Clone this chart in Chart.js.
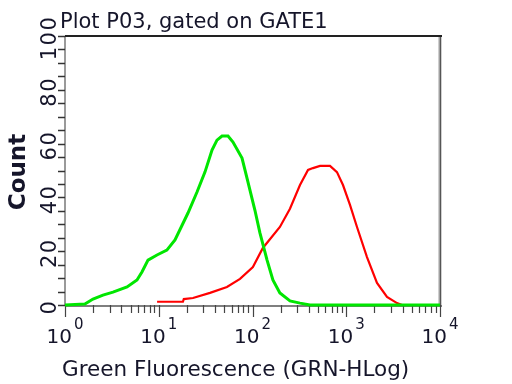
<!DOCTYPE html>
<html>
<head>
<meta charset="utf-8">
<script src="https://cdn.jsdelivr.net/npm/chart.js@4.4.1/dist/chart.umd.min.js"></script>
<style>
  html, body { margin: 0; padding: 0; background: #fff; }
  canvas { display: block; }
</style>
</head>
<body>
<canvas id="histo" width="512" height="384"></canvas>
<script>
// histogram data (fluorescence, count)
const greenFluor = [1, 1.63, 1.99, 2.54, 3.25, 4.59, 5.86, 6.62, 7.68, 9.58, 12.2, 14.9, 20.5, 25.6, 31.1, 37, 41.8, 47.3, 54.8, 61.9, 77.3, 89.5, 106, 120, 143, 165, 196, 251, 321, 410, 10000];
const greenCount = [0, 0.4, 2.2, 3.7, 4.8, 6.7, 9.3, 12.3, 16.7, 18.6, 20.4, 24.2, 34.2, 42, 49.4, 57.6, 61.3, 62.8, 62.8, 60.6, 54.6, 45.7, 35.3, 26.8, 16.7, 9.3, 4.5, 1.5, 0.7, 0, 0];

const redFluor = [9.6, 18.1, 18.5, 23.2, 35.2, 53.4, 73.6, 101, 129, 196, 251, 321, 391, 442, 525, 671, 796, 923, 1096, 1302, 1664, 2128, 2721, 3477, 3935];
const redCount = [1.2, 1.2, 2.2, 2.6, 4.5, 6.7, 9.7, 14.1, 21.2, 29, 35.8, 44.6, 50.2, 50.9, 51.7, 51.7, 49.4, 44.6, 37.2, 29, 17.8, 8.2, 3, 0.7, 0];

// axis ticks
const yTickLabels = [0, 20, 40, 60, 80, 100];
const yMinorStep = 5;
const xDecades = [1, 10, 100, 1000, 10000];
const xExponents = ['0', '1', '2', '3', '4'];

const titleText = 'Plot P03, gated on GATE1';
const xTitle = 'Green Fluorescence (GRN-HLog)';
const yTitle = 'Count';

const toPoints = (xs, ys) => xs.map((x, i) => ({ x: x, y: ys[i] }));

// frame, ticks and labels drawn by hand (rotated y labels, 10^n labels)
const frameAxes = {
  id: 'frameAxes',
  beforeDatasetsDraw(chart) {
    const c = chart.ctx;
    const a = chart.chartArea;
    const xs = chart.scales.x, ys = chart.scales.y;
    c.save();
    // left axis
    c.strokeStyle = '#9a9a9a';
    c.lineWidth = 2;
    c.beginPath(); c.moveTo(a.left, a.top); c.lineTo(a.left, a.bottom + 1); c.stroke();
    // right border
    c.strokeStyle = '#a0a0a0';
    c.lineWidth = 3;
    c.beginPath(); c.moveTo(a.right, a.top); c.lineTo(a.right, a.bottom); c.stroke();
    c.strokeStyle = '#555';
    c.lineWidth = 1;
    c.beginPath(); c.moveTo(a.right + 0.5, a.top); c.lineTo(a.right + 0.5, a.bottom); c.stroke();
    // top border
    c.strokeStyle = '#222';
    c.lineWidth = 2;
    c.beginPath(); c.moveTo(a.left, a.top); c.lineTo(a.right + 2, a.top); c.stroke();
    // bottom axis
    c.strokeStyle = '#555';
    c.lineWidth = 1.5;
    c.beginPath(); c.moveTo(a.left, a.bottom + 1); c.lineTo(a.right + 2, a.bottom + 1); c.stroke();

    // y ticks every 5
    c.strokeStyle = '#333';
    c.lineWidth = 1.5;
    for (let v = 0; v <= 100; v += yMinorStep) {
      const py = Math.round(ys.getPixelForValue(v)) + 0.5;
      c.beginPath(); c.moveTo(a.left - 7, py); c.lineTo(a.left, py); c.stroke();
    }
    // x ticks, decades and 2..9
    c.strokeStyle = '#444';
    c.lineWidth = 1.2;
    xDecades.forEach((d, i) => {
      const px = Math.round(xs.getPixelForValue(d)) + 0.5;
      c.beginPath(); c.moveTo(px, a.bottom); c.lineTo(px, a.bottom + 12); c.stroke();
      if (i < xDecades.length - 1) {
        for (let m = 2; m <= 9; m++) {
          const mx = Math.round(xs.getPixelForValue(d * m)) + 0.5;
          c.beginPath(); c.moveTo(mx, a.bottom); c.lineTo(mx, a.bottom + 8); c.stroke();
        }
      }
    });
    c.restore();
  },
  afterDraw(chart) {
    const c = chart.ctx;
    const a = chart.chartArea;
    const xs = chart.scales.x, ys = chart.scales.y;
    c.save();
    c.fillStyle = '#15152a';

    // title
    c.font = '21px "DejaVu Sans"';
    c.textAlign = 'left';
    c.textBaseline = 'alphabetic';
    c.fillText(titleText, 60, 28);

    // y tick labels, rotated
    c.font = '21px "DejaVu Sans"';
    c.letterSpacing = '1.5px';
    yTickLabels.forEach(v => {
      const py = ys.getPixelForValue(v);
      c.save();
      c.translate(56, py + 2);
      c.rotate(-Math.PI / 2);
      c.textAlign = 'center';
      c.fillText(String(v), 0, 0);
      c.restore();
    });
    c.letterSpacing = '0px';

    // x tick labels 10^n
    xDecades.forEach((d, i) => {
      const px = xs.getPixelForValue(d);
      c.font = '20px "DejaVu Sans"';
      const wb = c.measureText('10').width;
      c.font = '15px "DejaVu Sans"';
      const we = c.measureText(xExponents[i]).width;
      const x0 = px - (wb + 2 + we) / 2;
      c.textAlign = 'left';
      c.font = '20px "DejaVu Sans"';
      c.fillText('10', x0, a.bottom + 38);
      c.font = '15px "DejaVu Sans"';
      c.fillText(xExponents[i], x0 + wb + 2, a.bottom + 24);
    });

    // x axis title
    c.font = '21.5px "DejaVu Sans"';
    c.textAlign = 'left';
    c.fillText(xTitle, 62, 376);

    // y axis title
    c.save();
    c.font = 'bold 23px "DejaVu Sans"';
    c.translate(25, 172);
    c.rotate(-Math.PI / 2);
    c.textAlign = 'center';
    c.fillText(yTitle, 0, 0);
    c.restore();

    c.restore();
  }
};

new Chart(document.getElementById('histo'), {
  type: 'line',
  data: {
    datasets: [
      {
        label: 'green',
        data: toPoints(greenFluor, greenCount),
        borderColor: '#00e600',
        borderWidth: 3,
        clip: 5
      },
      {
        label: 'red',
        data: toPoints(redFluor, redCount),
        borderColor: '#ff0000',
        borderWidth: 2.2,
        clip: 5
      }
    ]
  },
  options: {
    responsive: false,
    animation: false,
    layout: { padding: { left: 65, right: 72, top: 36, bottom: 79 } },
    elements: { point: { radius: 0 }, line: { tension: 0 } },
    plugins: { legend: { display: false }, tooltip: { enabled: false } },
    scales: {
      x: { type: 'logarithmic', min: 1, max: 10000, display: false },
      y: { min: 0, max: 100, display: false }
    }
  },
  plugins: [frameAxes]
});
</script>
</body>
</html>
